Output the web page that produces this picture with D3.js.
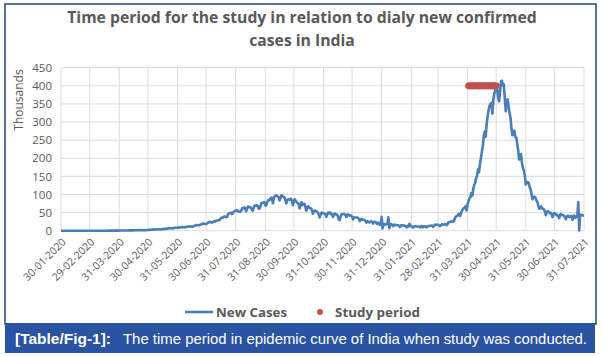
<!DOCTYPE html>
<html><head><meta charset="utf-8">
<script src="https://cdn.jsdelivr.net/npm/d3@7"></script>
<style>body{margin:0;background:#fff}svg{display:block}</style>
</head><body>
<svg id="chart" width="602" height="357"></svg>
<script>
// ---------- DATA (daily new confirmed cases, thousands) ----------
const startDate = "30-01-2020";
const jan2020 = [0,0];
const feb2020 = [0,0,0,0,0,0,0,0,0,0,0,0,0,0,0,0,0,0,0,0,0,0,0,0,0,0,0,0,0];
const mar2020 = [0,0,0,0,0,0,0,0,0,0,0,0,0,0,0,0,0,0,0,0.1,0.1,0.1,0.1,0.1,0.1,0.1,0.2,0.2,0.1,0.2,0.3];
const apr2020 = [0.4,0.5,0.6,0.5,0.5,0.5,0.6,0.6,0.6,0.9,0.9,0.9,0.8,1.5,0.9,1.1,1.1,1.4,1.3,1.5,1.3,1.5,1.7,1.3,1.4,1.8,1.4,1.5,1.9,1.8];
const may2020 = [1.8,2.4,2.6,2.5,3.9,2.9,3.6,3.3,3.3,4.2,4.2,3.6,3.5,3.7,3.9,4.9,5.0,4.6,5.6,5.6,5.7,6.6,6.6,7.0,6.5,6.5,7.1,7.5,8.4,7.9,8.4];
const jun2020 = [8.4,8.2,9.6,9.3,9.9,9.9,9.3,9.9,9.9,11.2,11.5,11.5,12.0,11.5,10.7,11.1,13.1,13.0,14.7,15.4,15.2,14.8,15.4,16.9,17.3,18.6,19.9,19.5,18.3,18.7];
const jul2020 = [19.4,21.9,22.7,24.9,24.2,22.3,23.1,25.6,25.0,27.1,27.1,28.6,28.2,29.4,32.7,35.5,34.9,37.4,38.9,39.0,37.1,37.7,45.7,48.9,48.7,49.9,46.0,48.5,52.1,55.1,55.0];
const aug2020 = [57.1,54.7,52.9,52.1,52.6,56.3,62.5,61.5,64.4,62.1,53.6,60.9,66.9,64.6,65.0,63.5,57.9,55.1,64.5,69.7,68.9,69.9,69.2,61.4,60.9,67.2,75.8,77.3,77.0,78.8,69.9];
const sep2020 = [69.9,78.4,83.9,83.3,86.4,90.6,90.8,75.8,89.7,95.7,96.6,97.6,94.4,92.1,83.8,90.1,97.9,96.4,93.3,92.6,86.9,75.1,83.3,86.5,86.1,85.4,88.6,82.2,70.6,80.5];
const oct2020 = [86.8,81.5,79.5,75.8,74.4,61.3,72.0,78.5,70.5,73.3,74.4,66.7,55.3,63.5,67.7,63.4,62.2,61.9,55.7,46.8,54.0,55.8,54.4,53.4,50.1,45.1,36.5,43.9,49.9,48.6,48.3];
const nov2020 = [46.9,45.2,38.3,46.3,50.2,47.6,50.4,45.7,45.9,38.1,44.3,47.9,44.9,44.7,41.1,30.5,29.2,38.6,45.6,45.9,46.2,45.2,44.1,37.9,44.4,44.5,43.1,41.3,41.8,38.8];
const dec2020 = [31.1,36.6,35.6,36.6,36.6,36.0,32.9,26.6,32.1,31.5,29.4,30.0,30.3,27.1,22.1,26.4,24.0,22.9,25.2,26.6,24.3,19.5,23.9,24.7,23.1,18.7,22.3,20.0,16.4,21.0,38.0];
const jan2021 = [6.5,19.1,18.2,16.5,18.1,20.3,37.0,7.0,18.6,18.6,16.3,12.6,15.9,16.9,15.6,15.2,15.1,13.8,10.1,13.8,15.2,14.5,14.3,14.0,13.2,9.1,12.7,11.7,18.9,13.1,13.0];
const feb2021 = [11.4,8.6,11.0,12.9,12.4,11.7,11.8,11.8,9.1,11.1,12.9,9.3,12.1,12.2,11.6,9.1,11.6,12.9,13.2,13.9,14.3,14.2,10.6,13.7,16.7,16.6,16.5,16.8];
const mar2021 = [15.5,12.3,14.9,17.4,17.4,16.8,18.3,18.6,15.4,17.9,22.9,23.3,24.9,25.3,26.3,24.5,28.9,35.9,39.7,40.9,43.8,46.9,40.7,47.3,53.5,59.1,62.3,62.7,68.0,56.2,72.3];
const apr2021 = [81.5,89.1,93.2,103.6,96.9,115.7,126.8,131.9,145.4,152.9,168.9,161.7,184.4,200.7,217.4,234.7,261.5,273.8,259.2,295.0,315.0,332.7,345.1,349.7,352.9,323.1,360.9,379.3,386.5,401.9];
const may2021 = [392.5,368.1,357.2,382.3,412.3,414.1,401.1,403.7,366.1,329.9,348.4,362.7,343.1,326.1,311.2,281.4,263.5,267.3,276.1,259.6,257.3,240.8,222.3,196.4,208.9,211.3,186.4,173.8,165.6,152.7,127.5];
const jun2021 = [132.8,134.2,132.4,120.5,114.5,100.6,86.5,92.6,94.1,91.7,84.3,80.8,70.4,60.5,62.2,67.2,62.5,60.7,58.4,53.3,42.6,50.8,54.1,51.7,48.7,50.0,46.1,37.6,45.9,48.8];
const jul2021 = [46.6,43.1,44.1,39.8,34.7,43.7,45.9,43.4,42.8,41.5,37.2,31.4,38.8,41.8,38.9,38.1,41.2,38.2,30.1,42.0,41.4,35.3,39.1,39.7,79.0,1.0,43.6,43.5,44.2,41.6,41.8];

const studyStart = "01-04-2021";
const studyEnd = "30-04-2021";
const studyValue = 400;

const xTickLabels = ["30-01-2020","29-02-2020","31-03-2020","30-04-2020","31-05-2020","30-06-2020","31-07-2020","31-08-2020","30-09-2020","31-10-2020","30-11-2020","31-12-2020","31-01-2021","28-02-2021","31-03-2021","30-04-2021","31-05-2021","30-06-2021","31-07-2021"];
const yTicks = [0,50,100,150,200,250,300,350,400,450];
const titleLines = ["Time period for the study in relation to dialy new confirmed","cases in India"];
const yUnitLabel = "Thousands";
const seriesNames = ["New Cases","Study period"];
const captionLabel = "[Table/Fig-1]:";
const captionText = "The time period in epidemic curve of India when study was conducted.";

// ---------- BUILD ----------
const parse = d3.utcParse("%d-%m-%Y");
const values = [].concat(jan2020,feb2020,mar2020,apr2020,may2020,jun2020,jul2020,aug2020,sep2020,oct2020,nov2020,dec2020,jan2021,feb2021,mar2021,apr2021,may2021,jun2021,jul2021);
const t0 = parse(startDate);
const series = values.map((v,i)=>({date:d3.utcDay.offset(t0,i), value:v}));
const studyDates = d3.utcDay.range(parse(studyStart), d3.utcDay.offset(parse(studyEnd),1));
const study = studyDates.map(d=>({date:d, value:studyValue}));
const tickDates = xTickLabels.map(parse);

const svg = d3.select("#chart");
const W = 602, H = 357;
const plot = {left:61, right:584, top:67.7, bottom:230.7};
const gray = "#595959";
const blue = "#4a7ebb";
const red = "#c0504d";
const font = "Open Sans, Liberation Sans, sans-serif";

svg.append("rect").attr("width",W).attr("height",H).attr("fill","#fff");

const x = d3.scaleUtc().domain([tickDates[0], tickDates[tickDates.length-1]]).range([plot.left, plot.right]);
const y = d3.scaleLinear().domain([0,450]).range([plot.bottom, plot.top]);

// gridlines
const grid = svg.append("g");
grid.selectAll("line.h").data(yTicks).join("line")
  .attr("x1",plot.left).attr("x2",plot.right)
  .attr("y1",d=>y(d)).attr("y2",d=>y(d))
  .attr("stroke","#dcdcdc").attr("stroke-width",1);
grid.selectAll("line.v").data(tickDates).join("line")
  .attr("x1",d=>x(d)).attr("x2",d=>x(d))
  .attr("y1",plot.top).attr("y2",plot.bottom)
  .attr("stroke","#dcdcdc").attr("stroke-width",1);

// y axis labels
const yAxis = d3.axisLeft(y).tickValues(yTicks).tickSize(0).tickPadding(9);
const gy = svg.append("g").attr("transform",`translate(${plot.left},0)`).call(yAxis);
gy.select(".domain").remove();
gy.selectAll("text").attr("fill",gray).attr("font-family",font).attr("font-size",11.5);

svg.append("text").text(yUnitLabel)
  .attr("transform","translate(23,100) rotate(-90)")
  .attr("text-anchor","middle").attr("fill",gray)
  .attr("font-family",font).attr("font-size",12);

// x axis labels
const xAxis = d3.axisBottom(x).tickValues(tickDates).tickSize(0).tickFormat((d,i)=>xTickLabels[i]);
const gx = svg.append("g").attr("transform",`translate(0,${plot.bottom})`).call(xAxis);
gx.select(".domain").remove();
gx.selectAll("text")
  .attr("fill",gray).attr("font-family",font).attr("font-size",10.5)
  .attr("text-anchor","end").attr("y",0).attr("dy",0)
  .attr("transform","translate(5,12) rotate(-45)");

// line
const line = d3.line().x(d=>x(d.date)).y(d=>y(d.value));
svg.append("path").datum(series).attr("d",line)
  .attr("fill","none").attr("stroke",blue).attr("stroke-width",2.6)
  .attr("stroke-linejoin","round");

// study period markers
svg.append("g").selectAll("circle").data(study).join("circle")
  .attr("cx",d=>x(d.date)).attr("cy",d=>y(d.value)).attr("r",3.4).attr("fill",red);

// title
const title = svg.append("g");
const t1 = title.append("text").text(titleLines[0])
  .attr("x",302).attr("y",23).attr("text-anchor","middle")
  .attr("fill",gray).attr("font-weight","bold")
  .attr("font-family",font).attr("font-size",16);
const w1 = t1.node().getComputedTextLength();
const titleSize = 16*470/w1;
t1.attr("font-size",titleSize);
title.append("text").text(titleLines[1])
  .attr("x",302).attr("y",46).attr("text-anchor","middle")
  .attr("fill",gray).attr("font-weight","bold")
  .attr("font-family",font).attr("font-size",titleSize);

// legend
const lg = svg.append("g");
lg.append("line").attr("x1",185).attr("x2",213).attr("y1",312).attr("y2",312)
  .attr("stroke",blue).attr("stroke-width",2.6);
lg.append("text").text(seriesNames[0]).attr("x",216).attr("y",316.5)
  .attr("fill",gray).attr("font-weight","bold")
  .attr("font-family",font).attr("font-size",12.5)
  .attr("textLength",71).attr("lengthAdjust","spacingAndGlyphs");
lg.append("circle").attr("cx",320).attr("cy",312).attr("r",3).attr("fill",red);
lg.append("text").text(seriesNames[1]).attr("x",335).attr("y",316.5)
  .attr("fill",gray).attr("font-weight","bold")
  .attr("font-family",font).attr("font-size",12.5)
  .attr("textLength",85).attr("lengthAdjust","spacingAndGlyphs");

// chart border
svg.append("rect").attr("x",5).attr("y",4).attr("width",591).attr("height",320)
  .attr("fill","none").attr("stroke","#24446f").attr("stroke-width",1.5);

// caption band
svg.append("rect").attr("x",5).attr("y",323).attr("width",590).attr("height",30).attr("fill","#2a53a2");
svg.append("text").text(captionLabel).attr("x",15).attr("y",343.5)
  .attr("fill","#fff").attr("font-weight","bold")
  .attr("font-family","Liberation Sans Narrow, Liberation Sans, Arial, sans-serif").attr("font-size",15)
  .attr("textLength",96).attr("lengthAdjust","spacingAndGlyphs");
svg.append("text").text(captionText).attr("x",123).attr("y",343.5)
  .attr("fill","#fff")
  .attr("font-family","Liberation Sans Narrow, Liberation Sans, Arial, sans-serif").attr("font-size",15)
  .attr("textLength",464).attr("lengthAdjust","spacingAndGlyphs");
</script>
</body></html>
